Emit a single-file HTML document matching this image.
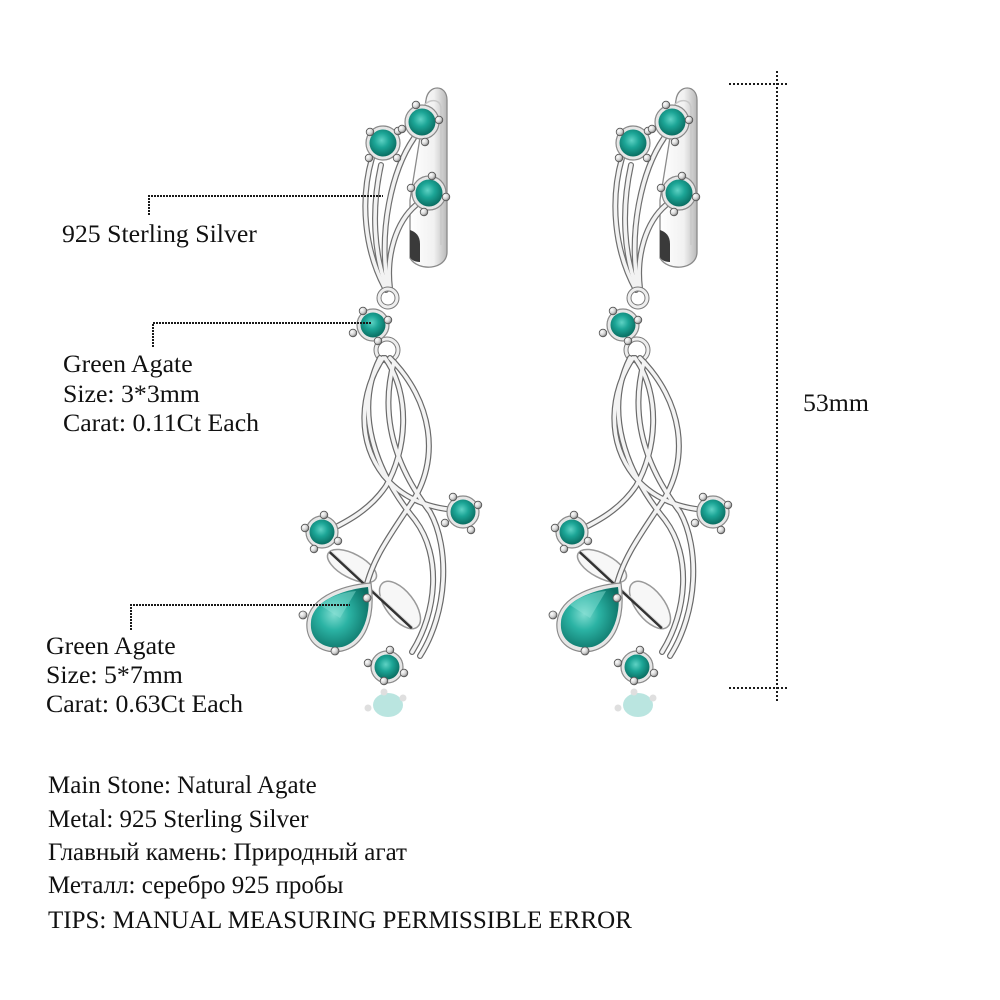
<!DOCTYPE html>
<html>
<head>
<meta charset="utf-8">
<style>
  html,body{margin:0;padding:0;background:#fff;}
  body{width:1000px;height:1000px;overflow:hidden;position:relative;}
  svg{position:absolute;left:0;top:0;}
  .t{font-family:"Liberation Serif","DejaVu Serif",serif;font-size:25.8px;fill:#111;}
  .b{font-family:"Liberation Serif","DejaVu Serif",serif;font-size:25px;fill:#111;}
</style>
</head>
<body>
<svg width="1000" height="1000" viewBox="0 0 1000 1000" xmlns="http://www.w3.org/2000/svg">
  <defs>
    <radialGradient id="gem" cx="45%" cy="40%" r="60%">
      <stop offset="0%" stop-color="#5fd2c4"/>
      <stop offset="45%" stop-color="#1ca596"/>
      <stop offset="100%" stop-color="#0a6e62"/>
    </radialGradient>
    <radialGradient id="pear" cx="40%" cy="45%" r="65%">
      <stop offset="0%" stop-color="#7fdcd0"/>
      <stop offset="40%" stop-color="#2bb3a4"/>
      <stop offset="100%" stop-color="#0b6f64"/>
    </radialGradient>
    <radialGradient id="prong" cx="35%" cy="35%" r="70%">
      <stop offset="0%" stop-color="#ffffff"/>
      <stop offset="60%" stop-color="#d0d0d0"/>
      <stop offset="100%" stop-color="#6a6a6a"/>
    </radialGradient>
    <linearGradient id="hoop" x1="0" y1="0" x2="1" y2="0">
      <stop offset="0%" stop-color="#ffffff"/>
      <stop offset="65%" stop-color="#f1f1f1"/>
      <stop offset="100%" stop-color="#b8b8b8"/>
    </linearGradient>

    <g id="earring">
      <!-- hoop / lever -->
      <path d="M426,100 C428,84 447,84 447,100 L447,252 C447,270 418,272 410,258 L410,200 Z" fill="url(#hoop)" stroke="#8a8a8a" stroke-width="1.3"/>
      <path d="M422,110 C424,100 440,96 441,108 L441,245" fill="none" stroke="#c8c8c8" stroke-width="1.5"/>
      <path d="M410,230 C416,232 420,236 420,244 L420,262 C415,262 411,260 410,257 Z" fill="#3a3a3a"/>

      <!-- upper leaf bundle: dark outlines -->
      <g fill="none" stroke="#6f6f6f" stroke-width="6" stroke-linecap="round">
        <path d="M372,158 C360,200 364,250 386,290"/>
        <path d="M414,138 C392,170 378,230 388,288"/>
        <path d="M416,205 C396,222 386,255 390,288"/>
        <path d="M381,165 C371,210 374,255 387,288"/>
      </g>
      <g fill="none" stroke="#f2f2f2" stroke-width="3.6" stroke-linecap="round">
        <path d="M372,158 C360,200 364,250 386,290"/>
        <path d="M414,138 C392,170 378,230 388,288"/>
        <path d="M416,205 C396,222 386,255 390,288"/>
        <path d="M381,165 C371,210 374,255 387,288"/>
      </g>

      <!-- rings -->
      <circle cx="388" cy="298" r="9" fill="none" stroke="#7a7a7a" stroke-width="5"/>
      <circle cx="388" cy="298" r="9" fill="none" stroke="#eeeeee" stroke-width="3"/>
      <circle cx="387" cy="350" r="11" fill="none" stroke="#7a7a7a" stroke-width="5"/>
      <circle cx="387" cy="350" r="11" fill="none" stroke="#eeeeee" stroke-width="3"/>

      <!-- leaves -->
      <ellipse cx="352" cy="566" rx="27" ry="12" transform="rotate(28 352 566)" fill="#f7f7f7" stroke="#9a9a9a" stroke-width="1.5"/>
      <ellipse cx="400" cy="605" rx="28" ry="14" transform="rotate(52 400 605)" fill="#f7f7f7" stroke="#9a9a9a" stroke-width="1.5"/>
      <path d="M330,552 L412,628" stroke="#333" stroke-width="3"/>
      <path d="M331,551 L413,627" stroke="#ddd" stroke-width="1"/>

      <!-- lower strands -->
      <g fill="none" stroke="#6a6a6a" stroke-width="6" stroke-linecap="round">
        <path d="M383,358 C360,392 356,440 384,476 C404,500 430,508 455,510"/>
        <path d="M390,358 C432,400 442,460 410,505 C390,535 372,560 366,588"/>
        <path d="M385,358 C412,396 406,452 386,486 C370,510 346,522 330,530"/>
        <path d="M380,358 C354,410 374,470 415,520 C442,556 437,612 412,652"/>
        <path d="M394,362 C378,420 398,470 430,512 C450,548 448,612 420,656"/>
      </g>
      <g fill="none" stroke="#f3f3f3" stroke-width="3.6" stroke-linecap="round">
        <path d="M383,358 C360,392 356,440 384,476 C404,500 430,508 455,510"/>
        <path d="M390,358 C432,400 442,460 410,505 C390,535 372,560 366,588"/>
        <path d="M385,358 C412,396 406,452 386,486 C370,510 346,522 330,530"/>
        <path d="M380,358 C354,410 374,470 415,520 C442,556 437,612 412,652"/>
        <path d="M394,362 C378,420 398,470 430,512 C450,548 448,612 420,656"/>
      </g>

      <!-- reflection -->
      <g opacity="0.3">
        <ellipse cx="388" cy="705" rx="15" ry="12" fill="#1fab9c"/>
        <circle cx="384" cy="692" r="3.5" fill="#999"/>
        <circle cx="403" cy="698" r="3.5" fill="#999"/>
        <circle cx="368" cy="708" r="3.5" fill="#999"/>
      </g>

      <!-- small stones -->
      <g>
        <circle cx="383" cy="143" r="17" fill="#e6e6e6" stroke="#8a8a8a" stroke-width="1.2"/>
        <circle cx="383" cy="143" r="13.5" fill="url(#gem)"/>
        <g fill="url(#prong)" stroke="#555" stroke-width="0.8">
          <circle cx="370" cy="132" r="3.8"/><circle cx="398" cy="131" r="3.8"/>
          <circle cx="369" cy="158" r="3.8"/><circle cx="397" cy="158" r="3.8"/>
        </g>
      </g>
      <g>
        <circle cx="422" cy="122" r="17" fill="#e6e6e6" stroke="#8a8a8a" stroke-width="1.2"/>
        <circle cx="422" cy="122" r="13.5" fill="url(#gem)"/>
        <g fill="url(#prong)" stroke="#555" stroke-width="0.8">
          <circle cx="416" cy="105" r="3.8"/><circle cx="439" cy="120" r="3.8"/>
          <circle cx="402" cy="129" r="3.8"/><circle cx="425" cy="142" r="3.8"/>
        </g>
      </g>
      <g>
        <circle cx="429" cy="193" r="17" fill="#e6e6e6" stroke="#8a8a8a" stroke-width="1.2"/>
        <circle cx="429" cy="193" r="13.5" fill="url(#gem)"/>
        <g fill="url(#prong)" stroke="#555" stroke-width="0.8">
          <circle cx="432" cy="176" r="3.8"/><circle cx="446" cy="197" r="3.8"/>
          <circle cx="411" cy="188" r="3.8"/><circle cx="424" cy="212" r="3.8"/>
        </g>
      </g>
      <g>
        <circle cx="373" cy="325" r="16" fill="#e6e6e6" stroke="#8a8a8a" stroke-width="1.2"/>
        <circle cx="373" cy="325" r="12.5" fill="url(#gem)"/>
        <g fill="url(#prong)" stroke="#555" stroke-width="0.8">
          <circle cx="363" cy="311" r="3.8"/><circle cx="388" cy="320" r="3.8"/>
          <circle cx="353" cy="333" r="3.8"/><circle cx="378" cy="341" r="3.8"/>
        </g>
      </g>
      <g>
        <circle cx="322" cy="532" r="16" fill="#e6e6e6" stroke="#8a8a8a" stroke-width="1.2"/>
        <circle cx="322" cy="532" r="12.5" fill="url(#gem)"/>
        <g fill="url(#prong)" stroke="#555" stroke-width="0.8">
          <circle cx="324" cy="515" r="3.8"/><circle cx="305" cy="528" r="3.8"/>
          <circle cx="338" cy="541" r="3.8"/><circle cx="314" cy="549" r="3.8"/>
        </g>
      </g>
      <g>
        <circle cx="463" cy="512" r="16" fill="#e6e6e6" stroke="#8a8a8a" stroke-width="1.2"/>
        <circle cx="463" cy="512" r="12.5" fill="url(#gem)"/>
        <g fill="url(#prong)" stroke="#555" stroke-width="0.8">
          <circle cx="453" cy="497" r="3.8"/><circle cx="478" cy="505" r="3.8"/>
          <circle cx="445" cy="523" r="3.8"/><circle cx="471" cy="530" r="3.8"/>
        </g>
      </g>
      <g>
        <circle cx="387" cy="667" r="16" fill="#e6e6e6" stroke="#8a8a8a" stroke-width="1.2"/>
        <circle cx="387" cy="667" r="12.5" fill="url(#gem)"/>
        <g fill="url(#prong)" stroke="#555" stroke-width="0.8">
          <circle cx="390" cy="650" r="3.8"/><circle cx="368" cy="663" r="3.8"/>
          <circle cx="404" cy="673" r="3.8"/><circle cx="384" cy="681" r="3.8"/>
        </g>
      </g>

      <!-- pear stone -->
      <path d="M371,583 C350,584 310,594 307,622 C305,644 324,655 342,651 C364,646 376,620 371,583 Z" fill="#e6e6e6" stroke="#8a8a8a" stroke-width="1.2"/>
      <path d="M368,587 C349,589 313,598 311,622 C309,641 326,650 342,647 C361,642 372,618 368,587 Z" fill="url(#pear)"/>
      <path d="M320,605 C330,596 345,592 356,591 L340,618 Z" fill="#8fe3d8" opacity="0.45"/>
      <g fill="url(#prong)" stroke="#555" stroke-width="0.8">
        <circle cx="303" cy="615" r="4"/><circle cx="335" cy="651" r="4"/><circle cx="367" cy="598" r="4"/>
      </g>
    </g>
  </defs>

  <use href="#earring"/>
  <use href="#earring" transform="translate(250,0)"/>

  <!-- leader lines -->
  <g fill="none" stroke="#1a1a1a" stroke-width="2" stroke-dasharray="2 1">
    <polyline points="149,215 149,196 383,196"/>
    <polyline points="153,347 153,323 372,323"/>
    <polyline points="131,630 131,605 350,605"/>
  </g>

  <!-- measurement -->
  <g fill="none" stroke="#1a1a1a" stroke-width="2" stroke-dasharray="2 2">
    <line x1="777" y1="71" x2="777" y2="701"/>
    <line x1="729" y1="84" x2="789" y2="84"/>
    <line x1="729" y1="688" x2="789" y2="688"/>
  </g>

  <!-- labels -->
  <text class="t" x="62" y="242">925 Sterling Silver</text>
  <text class="t" x="63" y="372">Green Agate</text>
  <text class="t" x="63" y="402">Size: 3*3mm</text>
  <text class="t" x="63" y="431">Carat: 0.11Ct Each</text>
  <text class="t" x="46" y="654">Green Agate</text>
  <text class="t" x="46" y="683">Size: 5*7mm</text>
  <text class="t" x="46" y="712">Carat: 0.63Ct Each</text>
  <text class="t" x="803" y="411">53mm</text>

  <text class="b" x="48" y="793">Main Stone: Natural Agate</text>
  <text class="b" x="48" y="827">Metal: 925 Sterling Silver</text>
  <text class="b" x="48" y="860">Главный камень: Природный агат</text>
  <text class="b" x="48" y="893">Металл: серебро 925 пробы</text>
  <text class="b" x="48" y="928">TIPS: MANUAL MEASURING PERMISSIBLE ERROR</text>
</svg>
</body>
</html>
